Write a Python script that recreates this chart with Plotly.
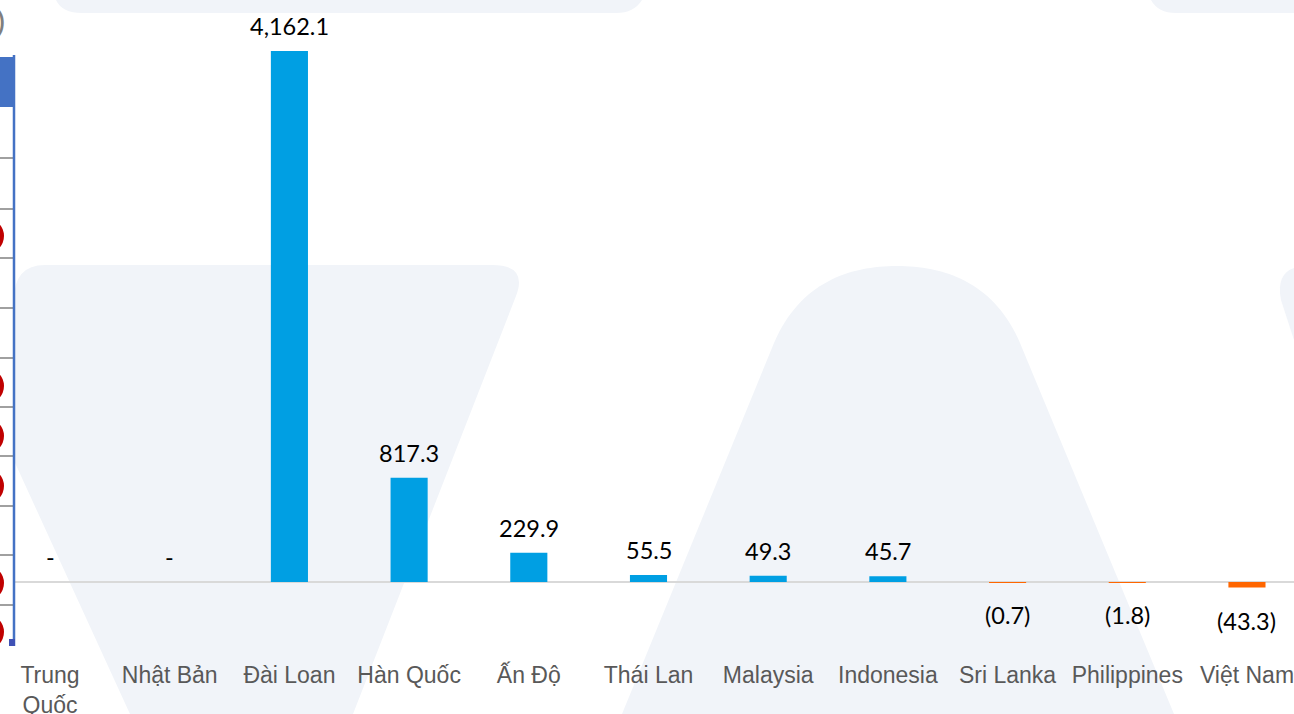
import plotly.graph_objects as go

# Data
countries = ["Trung Quốc", "Nhật Bản", "Đài Loan", "Hàn Quốc", "Ấn Độ", "Thái Lan",
             "Malaysia", "Indonesia", "Sri Lanka", "Philippines", "Việt Nam"]
values = [0.0, 0.0, 4162.1, 817.3, 229.9, 55.5, 49.3, 45.7, -0.7, -1.8, -43.3]
tick_labels = ["Trung<br>Quốc", "Nhật Bản", "Đài Loan", "Hàn Quốc", "Ấn Độ", "Thái Lan",
               "Malaysia", "Indonesia", "Sri Lanka", "Philippines", "Việt Nam"]

BLUE = "#009FE3"
ORANGE = "#FF6600"
WATERMARK = "#F1F4F9"

W, H = 1294, 714
ML, MR, MT, MB = 0, 0, 0, 74


def fmt(v):
    if v == 0:
        return "-"
    if v < 0:
        return f"({abs(v):,.1f})"
    return f"{v:,.1f}"


# pixel -> paper helpers for the decorative background
def px(x):
    return (x - ML) / (W - ML - MR)


def py(y):
    return 1 - (y - MT) / (H - MT - MB)


def path(cmds):
    out = []
    for c in cmds:
        op, pts = c[0], c[1:]
        out.append(op + " " + " ".join(f"{px(x):.5f},{py(y):.5f}" for x, y in pts))
    return " ".join(out) + " Z"


fig = go.Figure()
fig.add_trace(
    go.Bar(
        x=countries,
        y=values,
        width=0.31,
        marker=dict(color=[BLUE if v >= 0 else ORANGE for v in values], line=dict(width=0)),
        hoverinfo="x+y",
        showlegend=False,
    )
)

# value labels
for c, v in zip(countries, values):
    fig.add_annotation(
        x=c, y=v, text=fmt(v), showarrow=False,
        yshift=-33 if v < 0 else 25, yanchor="middle",
        font=dict(family="Lato", size=23.5, color="#000000"),
    )

# watermark shapes (background)
bg_paths = [
    [("M", (14, 300)), ("Q", (14, 265), (45, 265)), ("L", (492, 265)),
     ("Q", (528, 265), (516, 296)), ("L", (353, 714)), ("L", (130, 714)), ("L", (0, 430))],
    [("M", (622, 714)), ("L", (774, 343)), ("C", (800, 282), (850, 266), (897, 266)),
     ("C", (944, 266), (994, 282), (1020, 343)), ("L", (1174, 714))],
    [("M", (1294, 268)), ("Q", (1276, 274), (1281, 300)), ("L", (1294, 340))],
    [("M", (56, 0)), ("Q", (62, 13), (82, 13)), ("L", (616, 13)), ("Q", (634, 13), (642, 0))],
    [("M", (1151, 0)), ("Q", (1158, 13), (1176, 13)), ("L", (1294, 13)), ("L", (1294, 0))],
]
for p in bg_paths:
    fig.add_shape(type="path", path=path(p), xref="paper", yref="paper",
                  fillcolor=WATERMARK, line=dict(width=0), layer="below")

# fragment of the neighbouring table on the left edge
fig.add_shape(type="rect", xref="paper", yref="paper", x0=px(0), x1=px(14), y0=py(57), y1=py(645),
              fillcolor="white", line=dict(width=0), layer="above")
fig.add_shape(type="rect", xref="paper", yref="paper", x0=px(0), x1=px(14), y0=py(57), y1=py(107),
              fillcolor="#4472C4", line=dict(width=0), layer="above")
for ry in [158, 209, 258, 308, 358, 407, 456, 506, 555, 605]:
    fig.add_shape(type="line", xref="paper", yref="paper", x0=px(0), x1=px(13), y0=py(ry), y1=py(ry),
                  line=dict(color="#808080", width=1.5), layer="above")
for cy in [236, 386, 436, 486, 583, 632]:
    fig.add_shape(type="circle", xref="paper", yref="paper", x0=px(-28), x1=px(4),
                  y0=py(cy - 17), y1=py(cy + 17), fillcolor="#C00000", line=dict(width=0), layer="above")
fig.add_shape(type="line", xref="paper", yref="paper", x0=px(14), x1=px(14), y0=py(55), y1=py(646),
              line=dict(color="#4472C4", width=2.5), layer="above")
fig.add_shape(type="rect", xref="paper", yref="paper", x0=px(9), x1=px(15), y0=py(639), y1=py(646),
              fillcolor="#3F51B5", line=dict(width=0), layer="above")
fig.add_annotation(x=px(8), y=py(20), xref="paper", yref="paper", text=")", showarrow=False,
                   xanchor="right", yanchor="middle", font=dict(family="Liberation Sans", size=32, color="#7F7F7F"))

fig.update_layout(
    width=W,
    height=H,
    margin=dict(l=ML, r=MR, t=MT, b=MB),
    paper_bgcolor="white",
    plot_bgcolor="rgba(0,0,0,0)",
    xaxis=dict(
        range=[-0.418, 10.393],
        tickmode="array",
        tickvals=countries,
        ticktext=tick_labels,
        ticks="outside",
        ticklen=14,
        tickcolor="rgba(0,0,0,0)",
        showline=False,
        showgrid=False,
        automargin=False,
        tickfont=dict(family="Liberation Sans, Arial", size=23, color="#595959"),
    ),
    yaxis=dict(
        range=[-454.6, 4562],
        showticklabels=False,
        showgrid=False,
        zeroline=True,
        zerolinecolor="#D9D9D9",
        zerolinewidth=2,
        automargin=False,
    ),
)

fig.write_html(
    "out.html",
    config={"displayModeBar": False},
    post_script="document.body.style.margin='0';document.body.style.overflow='hidden';",
)
